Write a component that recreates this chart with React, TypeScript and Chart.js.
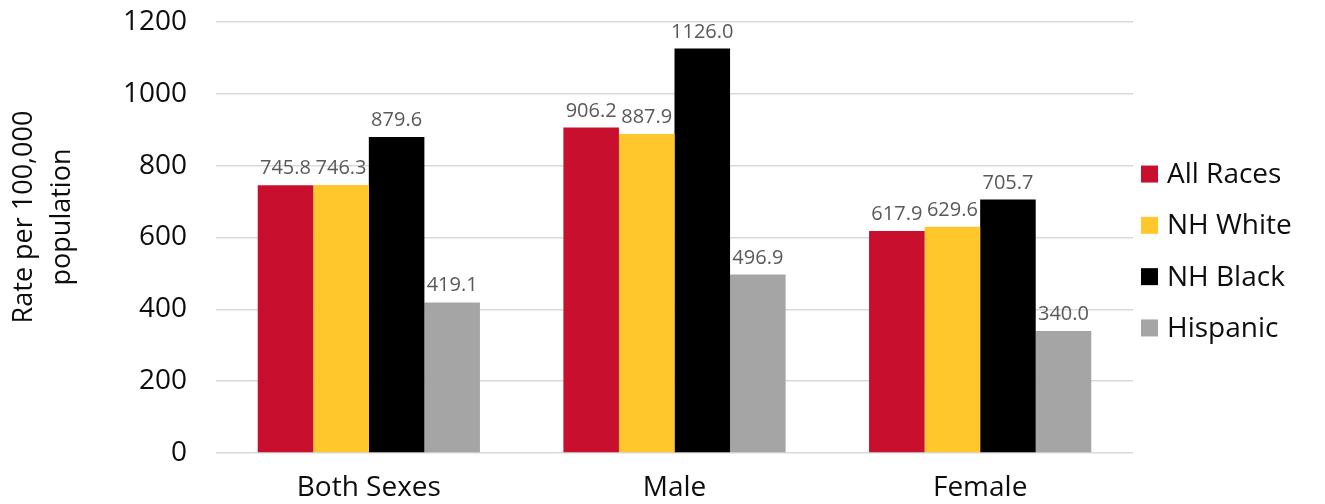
import React, { useEffect, useRef } from "react";
import { Chart, registerables } from "chart.js";

Chart.register(...registerables);

const categories = ["Both Sexes", "Male", "Female"];
const seriesNames = ["All Races", "NH White", "NH Black", "Hispanic"];
const allRaces = [745.8, 906.2, 617.9];
const nhWhite = [746.3, 887.9, 629.6];
const nhBlack = [879.6, 1126.0, 705.7];
const hispanic = [419.1, 496.9, 340.0];
const seriesColors = ["#C8102E", "#FFC72C", "#000000", "#A5A5A5"];
const yTitleLines = ["Rate per 100,000", "population"];

const FONT = "'Open Sans', sans-serif";

const extrasPlugin = {
  id: "extras",
  afterDatasetsDraw(chart: any) {
    const ctx = chart.ctx;
    ctx.save();
    ctx.font = `20px ${FONT}`;
    ctx.fillStyle = "#595959";
    ctx.textAlign = "center";
    ctx.textBaseline = "alphabetic";
    chart.data.datasets.forEach((ds: any, di: number) => {
      const meta = chart.getDatasetMeta(di);
      meta.data.forEach((el: any, i: number) => {
        const v = ds.data[i] as number;
        ctx.fillText(v.toFixed(1), el.x, el.y - 11);
      });
    });
    ctx.restore();
  },
  afterDraw(chart: any) {
    const ctx = chart.ctx;
    const area = chart.chartArea;
    ctx.save();
    // legend
    ctx.font = `28px ${FONT}`;
    ctx.textBaseline = "middle";
    ctx.textAlign = "left";
    const n = chart.data.datasets.length;
    const spacing = 51.3;
    const cy = 251;
    chart.data.datasets.forEach((ds: any, i: number) => {
      const y = cy + (i - (n - 1) / 2) * spacing;
      const x = area.right + 8;
      ctx.fillStyle = ds.backgroundColor;
      ctx.fillRect(x, y - 8.5, 17, 17);
      ctx.fillStyle = "#0d0d0d";
      ctx.fillText(ds.label, x + 26, y + 1);
    });
    // y title
    ctx.font = `27px ${FONT}`;
    ctx.fillStyle = "#0d0d0d";
    ctx.textAlign = "center";
    ctx.translate(43, 217);
    ctx.rotate(-Math.PI / 2);
    ctx.fillText(yTitleLines[0], 0, -19);
    ctx.fillText(yTitleLines[1], 0, 19);
    ctx.restore();
  },
};

export default function App() {
  const ref = useRef<HTMLCanvasElement | null>(null);
  useEffect(() => {
    if (!ref.current) return;
    const seriesData = [allRaces, nhWhite, nhBlack, hispanic];
    const chart = new Chart(ref.current, {
      type: "bar",
      data: {
        labels: categories,
        datasets: seriesNames.map((name, i) => ({
          label: name,
          data: seriesData[i],
          backgroundColor: seriesColors[i],
          borderWidth: 0,
          barPercentage: 1,
          categoryPercentage: 0.727,
        })),
      },
      options: {
        animation: false,
        responsive: false,
        maintainAspectRatio: false,
        layout: { padding: { top: 22, right: 192, left: 0, bottom: 0 } },
        plugins: {
          legend: { display: false },
          tooltip: { enabled: false },
        },
        scales: {
          x: {
            grid: { display: false, drawTicks: false },
            border: { display: false },
            ticks: {
              font: { family: FONT, size: 28 },
              color: "#0d0d0d",
              padding: 18,
            },
            afterFit: (s: any) => {
              s.height = 51;
              s.paddingLeft = 0;
              s.paddingRight = 0;
            },
          },
          y: {
            min: 0,
            max: 1200,
            ticks: {
              stepSize: 200,
              font: { family: FONT, size: 28 },
              color: "#0d0d0d",
              padding: 29,
              callback: (v: any) => String(v),
            },
            grid: { color: "#d9d9d9", lineWidth: 1.5, drawTicks: false },
            border: { display: false },
            afterFit: (s: any) => {
              s.width = 216;
              s.paddingTop = 0;
              s.paddingBottom = 0;
            },
          },
        },
      },
      plugins: [extrasPlugin],
    });
    return () => chart.destroy();
  }, []);
  return (
    <div style={{ position: "fixed", left: 0, top: 0, width: 1325, height: 504, background: "#fff" }}>
      <canvas ref={ref} width={1325} height={504} style={{ width: 1325, height: 504 }} />
    </div>
  );
}
